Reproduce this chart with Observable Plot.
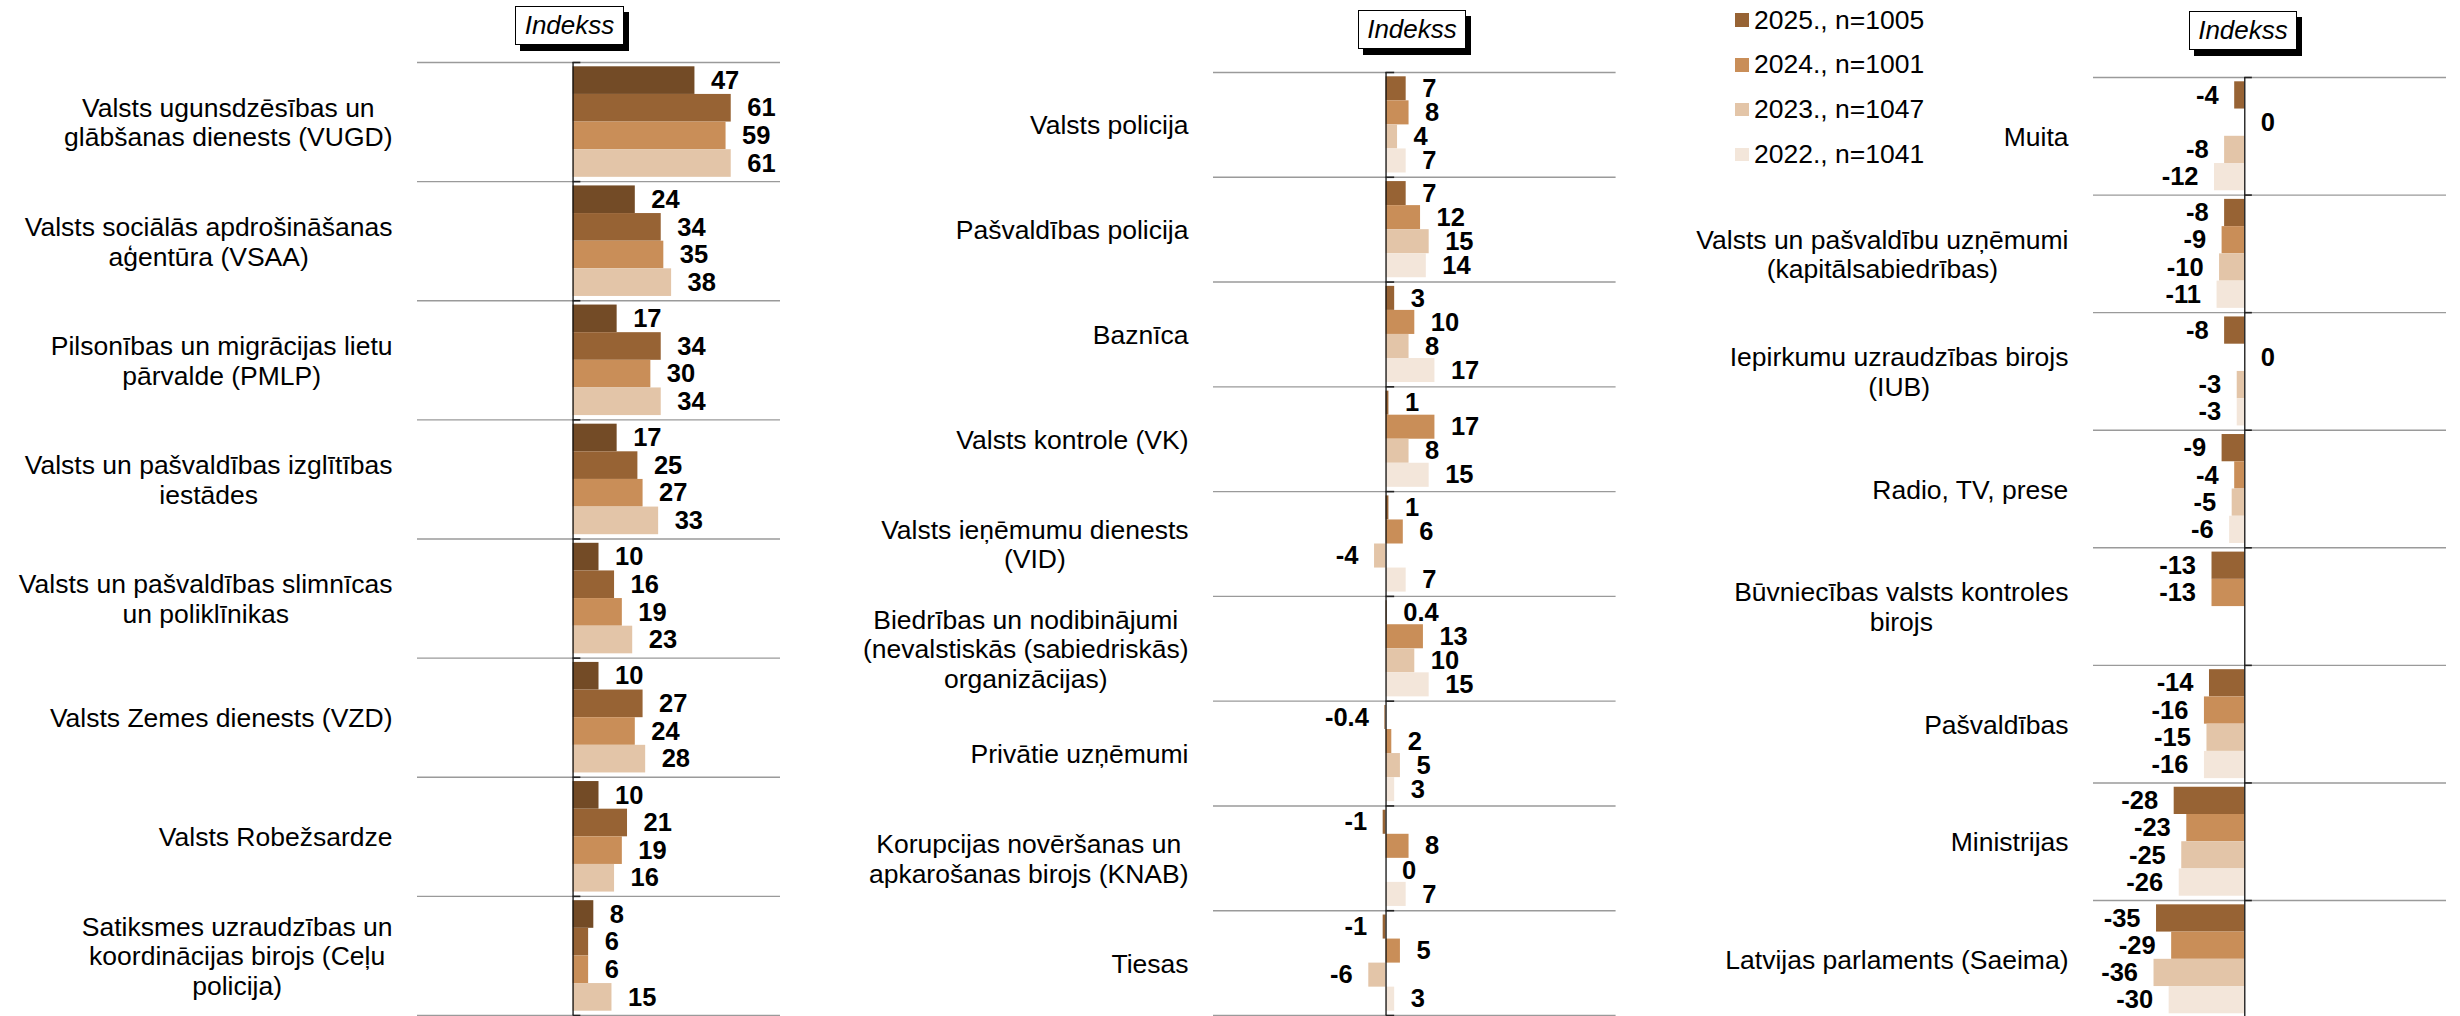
<!DOCTYPE html>
<html><head><meta charset="utf-8">
<script src="https://cdn.jsdelivr.net/npm/d3@7"></script>
<script src="https://cdn.jsdelivr.net/npm/@observablehq/plot@0.6"></script>
<style>
html,body{margin:0;padding:0;background:#fff;overflow:hidden;}
#root{position:relative;width:2460px;height:1016px;overflow:hidden;font-family:"Liberation Sans",Arial,sans-serif;color:#000;}
.panel{position:absolute;top:0;}
.panel svg{overflow:visible;}
.idx{position:absolute;box-sizing:border-box;border:1px solid #000;background:#fff;box-shadow:5px 6px 0 #000;font-style:italic;font-size:26px;display:flex;align-items:center;justify-content:center;}
.legend{position:absolute;left:1735px;top:0;}
.legend .row{position:absolute;left:0;height:30px;display:flex;align-items:center;white-space:nowrap;font-size:26.5px;}
.legend .sw{width:13.5px;height:13.5px;margin-right:5.5px;flex:none;}
</style></head>
<body><div id="root"></div>
<script>
// ---------- DATA ----------
const seriesNames = ["2025., n=1005", "2024., n=1001", "2023., n=1047", "2022., n=1041"];
const legendColors = ["#976334", "#C98E58", "#E3C5A8", "#F3E6DA"];
const panel1Colors = ["#734B26", "#976334", "#C98E58", "#E3C5A8"];

const cats1 = [
  "Valsts ugunsdzēsības un\nglābšanas dienests (VUGD)",
  "Valsts sociālās apdrošināšanas\naģentūra (VSAA)",
  "Pilsonības un migrācijas lietu\npārvalde (PMLP)",
  "Valsts un pašvaldības izglītības\niestādes",
  "Valsts un pašvaldības slimnīcas\nun poliklīnikas",
  "Valsts Zemes dienests (VZD)",
  "Valsts Robežsardze",
  "Satiksmes uzraudzības un\nkoordinācijas birojs (Ceļu\npolicija)"
];
const p1_2025 = [47, 24, 17, 17, 10, 10, 10, 8];
const p1_2024 = [61, 34, 34, 25, 16, 27, 21, 6];
const p1_2023 = [59, 35, 30, 27, 19, 24, 19, 6];
const p1_2022 = [61, 38, 34, 33, 23, 28, 16, 15];

const cats2 = [
  "Valsts policija",
  "Pašvaldības policija",
  "Baznīca",
  "Valsts kontrole (VK)",
  "Valsts ieņēmumu dienests\n(VID)",
  "Biedrības un nodibinājumi\n(nevalstiskās (sabiedriskās)\norganizācijas)",
  "Privātie uzņēmumi",
  "Korupcijas novēršanas un\napkarošanas birojs (KNAB)",
  "Tiesas"
];
const p2_2025 = [7, 7, 3, 1, 1, 0.4, -0.4, -1, -1];
const p2_2024 = [8, 12, 10, 17, 6, 13, 2, 8, 5];
const p2_2023 = [4, 15, 8, 8, -4, 10, 5, 0, -6];
const p2_2022 = [7, 14, 17, 15, 7, 15, 3, 7, 3];

const cats3 = [
  "Muita",
  "Valsts un pašvaldību uzņēmumi\n(kapitālsabiedrības)",
  "Iepirkumu uzraudzības birojs\n(IUB)",
  "Radio, TV, prese",
  "Būvniecības valsts kontroles\nbirojs",
  "Pašvaldības",
  "Ministrijas",
  "Latvijas parlaments (Saeima)"
];
const p3_2025 = [-4, -8, -8, -9, -13, -14, -28, -35];
const p3_2024 = [0, -9, 0, -4, -13, -16, -23, -29];
const p3_2023 = [-8, -10, -3, -5, null, -15, -25, -36];
const p3_2022 = [-12, -11, -3, -6, null, -16, -26, -30];

const xDomain = [-60, 80];
const axisTitle = "Indekss";

// ---------- DRAW ----------
const root = document.getElementById("root");
const FONT = '"Liberation Sans", Arial, sans-serif';
const ctx = document.createElement("canvas").getContext("2d");
ctx.font = '26.5px "Liberation Sans"';
const textW = s => Math.max(...s.split("\n").map(l => ctx.measureText(l).width));
const fmt = v => String(v);

function panel({cats, series, colors, left, width, height, mt, mb, ml, mr}) {
  const n = cats.length;
  const bw = (height - mt - mb) / n;
  const pad = 4.3;
  const bh = (bw - 2 * pad) / 4;
  const rows = [];
  series.forEach((vals, j) => vals.forEach((v, i) => { if (v != null) rows.push({cat: cats[i], j, v}); }));
  const marks = [];
  // group separators
  marks.push(Plot.ruleY(cats, {y: d => d, dy: -bw / 2, stroke: "#9a9a9a", strokeWidth: 1.4}));
  marks.push(Plot.ruleY(cats.slice(-1), {y: d => d, dy: bw / 2, stroke: "#9a9a9a", strokeWidth: 1.4}));
  // bars
  for (let j = 0; j < 4; j++) {
    marks.push(Plot.barX(rows.filter(r => r.j === j), {
      x: "v", y: "cat", fill: colors[j],
      insetTop: pad + j * bh, insetBottom: bw - pad - (j + 1) * bh
    }));
  }
  // axis line and small ticks
  marks.push(Plot.ruleX([0], {stroke: "#111", strokeWidth: 1.3}));
  marks.push(Plot.ruleY(cats, {y: d => d, dy: -bw / 2, x1: () => 0, x2: () => 3, stroke: "#222", strokeWidth: 1.6}));
  marks.push(Plot.ruleY(cats.slice(-1), {y: d => d, dy: bw / 2, x1: () => 0, x2: () => 3, stroke: "#222", strokeWidth: 1.6}));
  // value labels
  for (let j = 0; j < 4; j++) {
    const dy = -bw / 2 + pad + (j + 0.5) * bh;
    const sub = rows.filter(r => r.j === j);
    marks.push(Plot.text(sub.filter(r => r.v >= 0), {x: "v", y: "cat", text: r => fmt(r.v), dx: 16, dy, textAnchor: "start", fontWeight: "bold", fontSize: 25.5, fill: "#000"}));
    marks.push(Plot.text(sub.filter(r => r.v < 0), {x: "v", y: "cat", text: r => fmt(r.v), dx: -16, dy, textAnchor: "end", fontWeight: "bold", fontSize: 25.5, fill: "#000"}));
  }
  // category labels (block right-aligned, lines centered)
  cats.forEach(c => {
    const w = textW(c);
    marks.push(Plot.text([c], {y: d => d, text: d => d, frameAnchor: "left", dx: -(25 + w / 2), textAnchor: "middle", lineAnchor: "middle", lineHeight: 1.12, fontSize: 26.5, fill: "#000"}));
  });
  const svg = Plot.plot({
    width, height,
    marginTop: mt, marginBottom: mb, marginLeft: ml, marginRight: mr,
    x: {domain: xDomain, axis: null},
    y: {domain: cats, axis: null, padding: 0, round: false},
    style: {fontFamily: FONT, background: "transparent", overflow: "visible"},
    marks
  });
  const div = document.createElement("div");
  div.className = "panel";
  div.style.left = left + "px";
  div.appendChild(svg);
  root.appendChild(div);
}

panel({cats: cats1, series: [p1_2025, p1_2024, p1_2023, p1_2022], colors: panel1Colors,
  left: 0, width: 800, height: 1016, mt: 62, mb: 1, ml: 417, mr: 20});
panel({cats: cats2, series: [p2_2025, p2_2024, p2_2023, p2_2022], colors: legendColors,
  left: 830, width: 810, height: 1016, mt: 72, mb: 1, ml: 383, mr: 24.4});
panel({cats: cats3, series: [p3_2025, p3_2024, p3_2023, p3_2022], colors: legendColors,
  left: 1660, width: 800, height: 1020, mt: 77, mb: 2.4, ml: 433, mr: 14});

// "Indekss" boxes
[[515, 6, 109, 38.5], [1358, 10, 108, 39], [2189, 11, 108, 39]].forEach(([l, t, w, h]) => {
  const b = document.createElement("div");
  b.className = "idx";
  b.style.left = l + "px"; b.style.top = t + "px";
  b.style.width = w + "px"; b.style.height = h + "px";
  b.textContent = axisTitle;
  root.appendChild(b);
});

// legend
const leg = document.createElement("div");
leg.className = "legend";
seriesNames.forEach((name, i) => {
  const r = document.createElement("div");
  r.className = "row";
  r.style.top = (20 + i * 44.8 - 15) + "px";
  const sw = document.createElement("div");
  sw.className = "sw"; sw.style.background = legendColors[i];
  const tx = document.createElement("span");
  tx.textContent = name;
  r.appendChild(sw); r.appendChild(tx);
  leg.appendChild(r);
});
root.appendChild(leg);
</script></body></html>
